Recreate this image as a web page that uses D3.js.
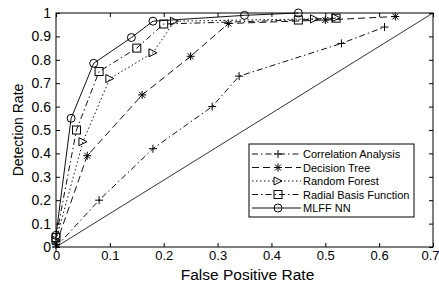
<!DOCTYPE html>
<html><head><meta charset="utf-8">
<script src="https://cdn.jsdelivr.net/npm/d3@7"></script>
<style>body{margin:0;background:#fff}svg{display:block}text{font-family:"Liberation Sans",Arial,sans-serif;fill:#000}</style>
</head><body><svg id="c" width="439" height="285"></svg>
<script>
const seriesNames = ["Correlation Analysis","Decision Tree","Random Forest","Radial Basis Function","MLFF NN"];
const caX = [0,0.08,0.18,0.29,0.34,0.53,0.61];
const caY = [0,0.2,0.42,0.6,0.73,0.87,0.94];
const dtX = [0,0.058,0.16,0.25,0.32,0.50,0.63];
const dtY = [0.01,0.39,0.65,0.815,0.955,0.97,0.985];
const rfX = [0,0.05,0.10,0.18,0.22,0.48,0.52];
const rfY = [0.03,0.45,0.72,0.83,0.965,0.975,0.98];
const rbX = [0,0.038,0.08,0.15,0.20,0.45,0.52];
const rbY = [0.04,0.50,0.75,0.85,0.953,0.97,0.978];
const mlX = [0,0.028,0.07,0.14,0.18,0.35,0.45];
const mlY = [0.05,0.55,0.785,0.895,0.965,0.99,1.0];
const xTicks = [0,0.1,0.2,0.3,0.4,0.5,0.6,0.7];
const yTicks = [0,0.1,0.2,0.3,0.4,0.5,0.6,0.7,0.8,0.9,1];

const L=56,R=433,T=13,B=247;
const svg=d3.select("#c");
const x=d3.scaleLinear().domain([0,0.7]).range([L,R]);
const y=d3.scaleLinear().domain([0,1]).range([B,T]);

const styles=[
 {dash:"6,3,1.5,3",marker:"plus"},
 {dash:"7,4",marker:"star"},
 {dash:"1.5,2.5",marker:"tri"},
 {dash:"6,3,1.5,3",marker:"sq"},
 {dash:null,marker:"circ"}
];
const data=[[caX,caY],[dtX,dtY],[rfX,rfY],[rbX,rbY],[mlX,mlY]].map(([xs,ys])=>xs.map((v,i)=>[v,ys[i]]));

svg.append("line").attr("x1",x(0)).attr("y1",y(0)).attr("x2",x(0.7)).attr("y2",y(1)).attr("stroke","#333").attr("stroke-width",1);

function drawMarker(g,type,cx,cy){
  const s=4;
  if(type==="plus"){
    g.append("path").attr("d",`M${cx-s},${cy}H${cx+s}M${cx},${cy-s}V${cy+s}`).attr("stroke","#000").attr("fill","none");
  }else if(type==="star"){
    const d=s*0.75;
    g.append("path").attr("d",`M${cx-s},${cy}H${cx+s}M${cx},${cy-s}V${cy+s}M${cx-d},${cy-d}L${cx+d},${cy+d}M${cx-d},${cy+d}L${cx+d},${cy-d}`).attr("stroke","#000").attr("fill","none");
  }else if(type==="tri"){
    g.append("path").attr("d",`M${cx-s},${cy-s}L${cx+s},${cy}L${cx-s},${cy+s}Z`).attr("stroke","#000").attr("fill","none");
  }else if(type==="sq"){
    g.append("rect").attr("x",cx-s).attr("y",cy-s).attr("width",2*s).attr("height",2*s).attr("stroke","#000").attr("fill","none");
  }else{
    g.append("circle").attr("cx",cx).attr("cy",cy).attr("r",s).attr("stroke","#000").attr("fill","none");
  }
}

const line=d3.line().x(d=>x(d[0])).y(d=>y(d[1]));
const gl=svg.append("g");
data.forEach((pts,i)=>{
  const p=gl.append("path").attr("d",line(pts)).attr("fill","none").attr("stroke","#111").attr("stroke-width",1);
  if(styles[i].dash)p.attr("stroke-dasharray",styles[i].dash);
  pts.forEach(d=>drawMarker(gl,styles[i].marker,x(d[0]),y(d[1])));
});

const ax=svg.append("g");
ax.append("rect").attr("x",L).attr("y",T).attr("width",R-L).attr("height",B-T).attr("fill","none").attr("stroke","#000");
const xb=ax.append("g").attr("transform",`translate(0,${B})`).call(d3.axisBottom(x).tickValues(xTicks).tickFormat(d=>d3.format("")(+d.toFixed(1))).tickSizeInner(-4).tickSizeOuter(0).tickPadding(4));
ax.append("g").attr("transform",`translate(0,${T})`).call(d3.axisTop(x).tickValues(xTicks).tickFormat("").tickSizeInner(-4).tickSizeOuter(0));
const yl=ax.append("g").attr("transform",`translate(${L},0)`).call(d3.axisLeft(y).tickValues(yTicks).tickFormat(d=>d3.format("")(+d.toFixed(1))).tickSizeInner(-4).tickSizeOuter(0).tickPadding(8));
ax.append("g").attr("transform",`translate(${R},0)`).call(d3.axisRight(y).tickValues(yTicks).tickFormat("").tickSizeInner(-4).tickSizeOuter(0));
ax.selectAll(".domain").remove();
ax.selectAll(".tick line").attr("stroke","#000");
xb.selectAll("text").attr("font-size","13px").attr("font-family","Liberation Sans, Arial, sans-serif").attr("fill","#000");
xb.selectAll(".tick").filter(d=>d===0.7).select("text").attr("text-anchor","end").attr("dx","6");
yl.selectAll("text").attr("font-size","14px").attr("font-family","Liberation Sans, Arial, sans-serif").attr("fill","#000").attr("dx","3");

svg.append("text").attr("x",(L+R)/2+3).attr("y",280).attr("text-anchor","middle").attr("font-size","15.5px").text("False Positive Rate");
svg.append("text").attr("transform",`translate(23,130) rotate(-90)`).attr("text-anchor","middle").attr("font-size","14px").text("Detection Rate");

const lg=svg.append("g");
lg.append("rect").attr("x",249).attr("y",144).attr("width",165).attr("height",73).attr("fill","#fff").attr("stroke","#000");
const ly=[154,167.5,181,194.5,208];
seriesNames.forEach((n,i)=>{
  const p=lg.append("path").attr("d",`M252,${ly[i]}H301`).attr("stroke","#111").attr("fill","none");
  if(styles[i].dash)p.attr("stroke-dasharray",styles[i].dash);
  drawMarker(lg,styles[i].marker,278,ly[i]);
  lg.append("text").attr("x",303).attr("y",ly[i]+4).attr("font-size","11px").text(n);
});
</script></body></html>
